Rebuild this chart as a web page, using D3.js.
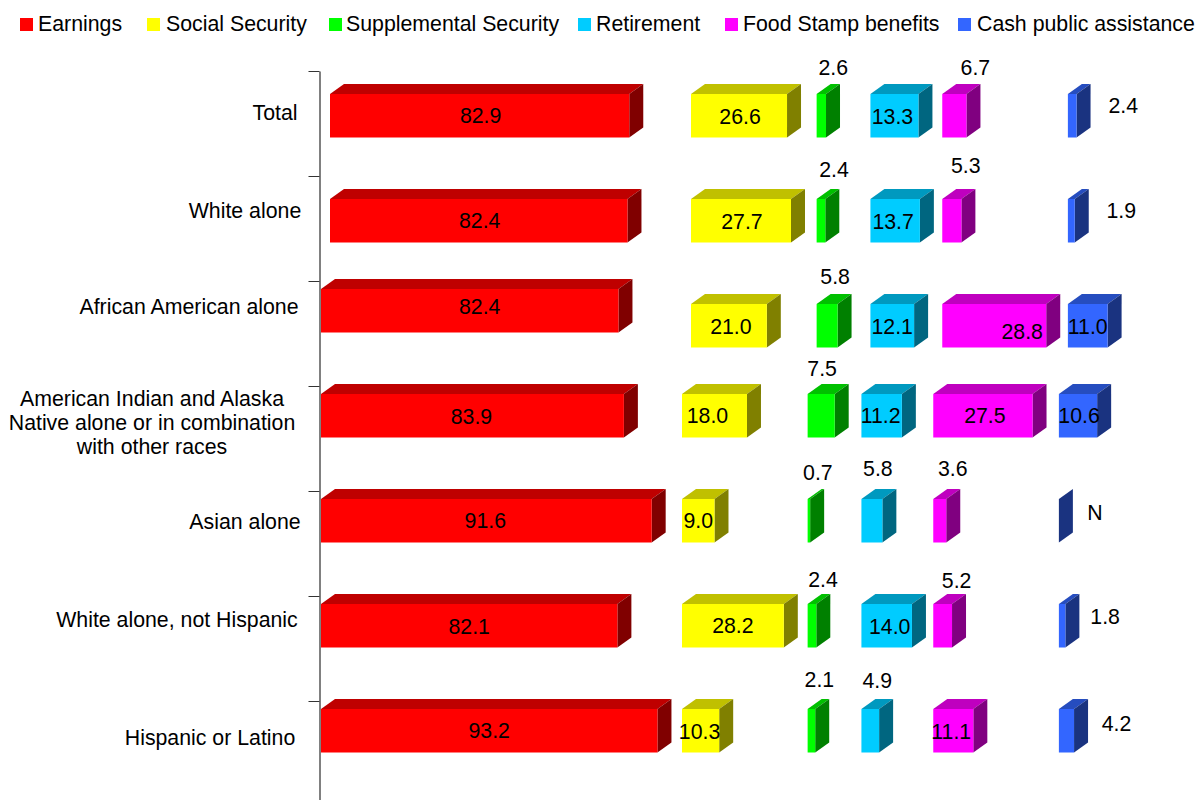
<!DOCTYPE html>
<html><head><meta charset="utf-8">
<script src="https://cdnjs.cloudflare.com/ajax/libs/d3/7.8.5/d3.min.js"></script>
<style>html,body{margin:0;padding:0;background:#fff;overflow:hidden}svg{display:block}text{font-family:"Liberation Sans",Arial,sans-serif;fill:#000}</style>
</head><body><svg id="c" width="1197" height="800"></svg>
<script>
const categories = [["Total"],["White alone"],["African American alone"],["American Indian and Alaska","Native alone or in combination","with other races"],["Asian alone"],["White alone, not Hispanic"],["Hispanic or Latino"]];
const seriesNames = ["Earnings","Social Security","Supplemental Security","Retirement","Food Stamp benefits","Cash public assistance"];
const earnings = [82.9,82.4,82.4,83.9,91.6,82.1,93.2];
const socialSecurity = [26.6,27.7,21.0,18.0,9.0,28.2,10.3];
const supplemental = [2.6,2.4,5.8,7.5,0.7,2.4,2.1];
const retirement = [13.3,13.7,12.1,11.2,5.8,14.0,4.9];
const foodStamp = [6.7,5.3,28.8,27.5,3.6,5.2,11.1];
const cash = [2.4,1.9,11.0,10.6,null,1.8,4.2];
const seriesValues = [earnings,socialSecurity,supplemental,retirement,foodStamp,cash];

// layout (separate from data)
const colors = [["#ff0000","#bf0000","#800000"],["#ffff00","#c0c000","#808000"],["#00ff00","#00c000","#008000"],["#00ccff","#0099bf","#006680"],["#ff00ff","#bf00bf","#800080"],["#3366ff","#264dbf","#1a3380"]];
const seriesStart = [0,100,134.8,149.7,169.6,204.4]; // in value units along x
const x = d3.scaleLinear().domain([0,100]).range([321,682]);
const yRow = d3.scaleLinear().domain([0,7]).range([71,806]);
const unit = x(1)-x(0);
const frontH = 43.5, depthX = 14, depthY = 10, barOffset = 8;
const nudgedRowsEarn = [1,1,0,0,0,0,0], nudgedRowsOther = [1,1,1,0,0,0,0];
const labelNudge = [
 [[1,0],[1,1],[12,-48],[-2,1],[21,-48],[51,-10]],
 [[1,0],[1,1],[13,-51],[-2,1],[14,-55],[50,-10]],
 [[10,-4],[2,1],[8,-49],[0,1],[28,6],[0,1]],
 [[-1,1],[-7,0],[1,-47],[-1,0],[2,0],[1,0]],
 [[-1,0],[0,0],[9,-48],[6,-52],[13,-52],[36,-8]],
 [[0,1],[0,0],[11,-46],[3,1],[14,-45],[43,-9]],
 [[0,0],[-1,1],[8,-51],[7,-50],[-2,1],[50,-7]]];
const catPos = [[275,-11],[245,-18],[189,-27],[152,-16],[245,-22],[177,-29],[210,-16]];
const legendX = [20,147,329,578,725,958];
const legendTextX = [18,19,17,18,18,19];

const svg = d3.select("#c");
// axis
const axis = d3.axisLeft(yRow).tickValues(d3.range(0,8)).tickFormat("").tickSize(11).tickSizeOuter(0);
const ax = svg.append("g").attr("transform","translate(319.5,0)").call(axis);
ax.select(".domain").attr("stroke","#808080").attr("stroke-width",2);
ax.selectAll(".tick line").attr("stroke","#333");

// bars
const cells = [];
categories.forEach((c,r)=>seriesValues.forEach((vals,s)=>{
  const n = s===0?nudgedRowsEarn[r]:nudgedRowsOther[r];
  const x0 = x(seriesStart[s]) + n*9;
  const y0 = yRow(r)+barOffset+n*15;
  const v = vals[r];
  const w = (v===null?0:v)*unit;
  cells.push({r,s,x0,y0,w,label:v===null?"N":d3.format(".1f")(v)});
}));
const g = svg.append("g").selectAll("g").data(cells).join("g");
g.append("path").attr("fill",d=>colors[d.s][1])
 .attr("d",d=>`M${d.x0},${d.y0}l${depthX},${-depthY}h${d.w}l${-depthX},${depthY}z`);
g.append("path").attr("fill",d=>colors[d.s][2])
 .attr("d",d=>`M${d.x0+d.w},${d.y0}l${depthX},${-depthY}v${frontH}l${-depthX},${depthY}z`);
g.append("rect").attr("fill",d=>colors[d.s][0])
 .attr("x",d=>d.x0).attr("y",d=>d.y0).attr("width",d=>d.w).attr("height",frontH);
svg.append("g").selectAll("text").data(cells).join("text")
 .attr("text-anchor","middle").attr("dominant-baseline","central").attr("font-size",21.3)
 .attr("x",d=>d.x0+d.w/2+labelNudge[d.r][d.s][0])
 .attr("y",d=>d.y0+frontH/2+labelNudge[d.r][d.s][1])
 .text(d=>d.label);

// category labels
const cat = svg.append("g").selectAll("text").data(categories).join("text")
 .attr("text-anchor","middle").attr("font-size",21.3)
 .attr("transform",(d,i)=>`translate(${catPos[i][0]},${(yRow(i)+yRow(i+1))/2+catPos[i][1]})`);
cat.selectAll("tspan").data(d=>d.map((t,i)=>({t,i,n:d.length}))).join("tspan")
 .attr("x",0).attr("y",d=>(d.i-(d.n-1)/2)*24).attr("dominant-baseline","central").text(d=>d.t);

// legend
const lg = svg.append("g").selectAll("g").data(seriesNames).join("g")
 .attr("transform",(d,i)=>`translate(${legendX[i]},18)`);
lg.append("rect").attr("width",13).attr("height",13).attr("fill",(d,i)=>colors[i][0]);
lg.append("text").attr("x",(d,i)=>legendTextX[i]).attr("y",5.5).attr("dominant-baseline","central").attr("font-size",21.3).text(d=>d);
</script></body></html>
